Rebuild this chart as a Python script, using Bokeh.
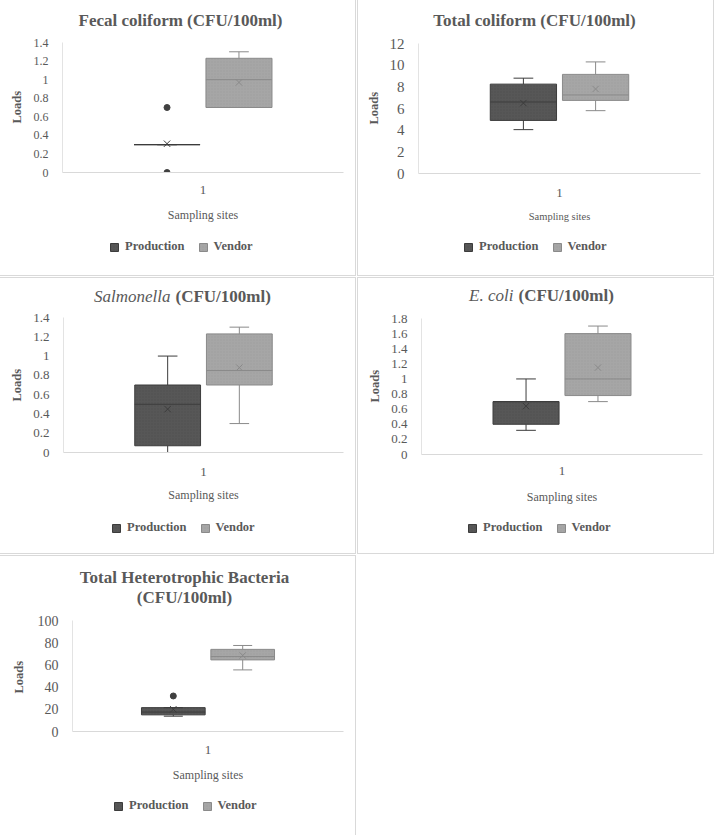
from bokeh.plotting import figure
from bokeh.layouts import row, column
from bokeh.models import (ColumnDataSource, FactorRange, Range1d, FixedTicker,
                          Label, Legend, LegendItem, Title)
from bokeh.transform import dodge
from bokeh.embed import file_html
from bokeh.resources import INLINE

# ---------------- data ----------------
sites = ["1"]
series = ["Production", "Vendor"]

# Fecal coliform (CFU/100ml)
fc_ticks = [0, 0.2, 0.4, 0.6, 0.8, 1.0, 1.2, 1.4]
fc_tick_labels = ["0", "0.2", "0.4", "0.6", "0.8", "1", "1.2", "1.4"]
fc_q1 = [0.30, 0.70]
fc_median = [0.30, 1.00]
fc_q3 = [0.30, 1.23]
fc_low = [0.30, 0.70]
fc_high = [0.30, 1.30]
fc_mean = [0.31, 0.97]
fc_outliers = [[0.70, 0.0], []]

# Total coliform (CFU/100ml)
tc_ticks = [0, 2, 4, 6, 8, 10, 12]
tc_tick_labels = ["0", "2", "4", "6", "8", "10", "12"]
tc_q1 = [4.90, 6.75]
tc_median = [6.60, 7.25]
tc_q3 = [8.25, 9.15]
tc_low = [4.05, 5.80]
tc_high = [8.80, 10.30]
tc_mean = [6.50, 7.80]
tc_outliers = [[], []]

# Salmonella (CFU/100ml)
sa_ticks = [0, 0.2, 0.4, 0.6, 0.8, 1.0, 1.2, 1.4]
sa_tick_labels = ["0", "0.2", "0.4", "0.6", "0.8", "1", "1.2", "1.4"]
sa_q1 = [0.07, 0.70]
sa_median = [0.50, 0.85]
sa_q3 = [0.70, 1.23]
sa_low = [0.00, 0.30]
sa_high = [1.00, 1.30]
sa_mean = [0.45, 0.88]
sa_outliers = [[], []]

# E. coli (CFU/100ml)
ec_ticks = [0, 0.2, 0.4, 0.6, 0.8, 1.0, 1.2, 1.4, 1.6, 1.8]
ec_tick_labels = ["0", "0.2", "0.4", "0.6", "0.8", "1", "1.2", "1.4", "1.6", "1.8"]
ec_q1 = [0.40, 0.78]
ec_median = [0.70, 1.00]
ec_q3 = [0.70, 1.60]
ec_low = [0.32, 0.70]
ec_high = [1.00, 1.70]
ec_mean = [0.64, 1.15]
ec_outliers = [[], []]

# Total Heterotrophic Bacteria (CFU/100ml)
hb_ticks = [0, 20, 40, 60, 80, 100]
hb_tick_labels = ["0", "20", "40", "60", "80", "100"]
hb_q1 = [15.0, 64.5]
hb_median = [17.5, 67.5]
hb_q3 = [21.5, 74.0]
hb_low = [13.8, 55.5]
hb_high = [21.5, 77.5]
hb_mean = [20.0, 68.5]
hb_outliers = [[32.0], []]

# ---------------- styles ----------------
FONT = "Liberation Serif"
TXT = "#595959"
PW = 355
TOP = 2           # frame starts near the top so the title fits inside it
OFFS = [-0.128, 0.128]
BW = 0.235
CW = 0.07
FILL = ["#575757", "#a6a6a6"]
LINE = ["#3c3c3c", "#8a8a8a"]


def box_style(i):
    return dict(fill_color=FILL[i], line_color=LINE[i], line_width=1,
                hatch_pattern="dot", hatch_scale=3, hatch_color=LINE[i], hatch_alpha=0.25)


def make_panel(titles, ticks, tick_labels, q1, med, q3, lo, hi, mean, outl, spec):
    PH, L, fw, T, B, Hm = spec["PH"], spec["L"], spec["fw"], spec["T"], spec["B"], spec["Hm"]
    Hl = PH - Hm
    ytop = ticks[-1] * (B - TOP) / (B - T)      # room above the top tick for the title
    xr = FactorRange(factors=sites, range_padding=0)
    p = figure(x_range=xr, y_range=Range1d(ticks[0], ytop), title=None,
               width=PW, height=Hm,
               min_border_left=L, min_border_right=PW - L - fw,
               min_border_top=TOP, min_border_bottom=Hm - B,
               output_backend="svg", toolbar_location=None, tools="")
    p.outline_line_color = None
    p.grid.visible = False
    p.background_fill_color = "white"
    p.border_fill_color = "white"

    # titles (inside the frame area, screen units from frame bottom-left)
    for t in titles:
        p.add_layout(Label(x=t["x"], y=B - t["y"], x_units="screen", y_units="screen",
                           text=t["text"], text_font=FONT, text_font_style=t["style"],
                           text_font_size="17px", text_color=TXT, text_align=t["align"],
                           text_baseline="middle"))

    # y axis
    ya = p.yaxis[0]
    ya.ticker = FixedTicker(ticks=ticks)
    ya.bounds = (ticks[0], ticks[-1])
    ya.major_label_overrides = {t: s for t, s in zip(ticks, tick_labels)}
    ya.axis_line_color = "#e3e3e3"
    ya.major_tick_line_color = None
    ya.minor_tick_line_color = None
    ya.major_label_standoff = 8
    ya.major_label_text_font = FONT
    ya.major_label_text_font_size = spec["tick_fs"]
    ya.major_label_text_color = TXT
    # y-axis title, placed next to the tick labels and centred on the data part
    p.add_layout(Title(text="Loads", align="left", offset=spec["loads_off"],
                       standoff=spec["loads_so"],
                       text_font=FONT, text_font_style="bold", text_font_size="12.5px",
                       text_color=TXT), "left")

    # x axis
    xa = p.xaxis[0]
    xa.axis_line_color = "#d9d9d9"
    xa.major_tick_line_color = None
    xa.minor_tick_line_color = None
    xa.major_label_standoff = spec["ms"]
    xa.major_label_text_font = FONT
    xa.major_label_text_font_size = "13px"
    xa.major_label_text_color = TXT
    xa.axis_label = "Sampling sites"
    xa.axis_label_text_font = FONT
    xa.axis_label_text_font_style = "normal"
    xa.axis_label_text_font_size = spec["xl_fs"]
    xa.axis_label_text_color = TXT
    xa.axis_label_standoff = spec["as"]

    for i, name in enumerate(series):
        off = OFFS[i]
        src = ColumnDataSource(dict(site=sites, q1=[q1[i]], med=[med[i]], q3=[q3[i]],
                                    lo=[lo[i]], hi=[hi[i]], mean=[mean[i]]))
        p.quad(left=dodge("site", off - BW / 2, range=xr),
               right=dodge("site", off + BW / 2, range=xr),
               bottom="q1", top="q3", source=src, **box_style(i))
        p.segment(x0=dodge("site", off - BW / 2, range=xr), x1=dodge("site", off + BW / 2, range=xr),
                  y0="med", y1="med", source=src, line_color=LINE[i], line_width=1)
        p.segment(x0=dodge("site", off, range=xr), x1=dodge("site", off, range=xr),
                  y0="q3", y1="hi", source=src, line_color=LINE[i], line_width=1)
        p.segment(x0=dodge("site", off, range=xr), x1=dodge("site", off, range=xr),
                  y0="lo", y1="q1", source=src, line_color=LINE[i], line_width=1)
        p.segment(x0=dodge("site", off - CW / 2, range=xr), x1=dodge("site", off + CW / 2, range=xr),
                  y0="hi", y1="hi", source=src, line_color=LINE[i], line_width=1)
        p.segment(x0=dodge("site", off - CW / 2, range=xr), x1=dodge("site", off + CW / 2, range=xr),
                  y0="lo", y1="lo", source=src, line_color=LINE[i], line_width=1)
        p.scatter(x=dodge("site", off, range=xr), y="mean", source=src, marker="x",
                  size=9, line_color=LINE[i], line_width=1)
        if outl[i]:
            osrc = ColumnDataSource(dict(site=sites * len(outl[i]), val=outl[i]))
            p.scatter(x=dodge("site", off, range=xr), y="val", source=osrc, marker="circle",
                      size=6, fill_color="#404040", line_color="#404040")

    # legend strip (its own small figure, legend drawn inside its frame)
    lf = figure(width=PW, height=Hl, x_range=Range1d(0, 1), y_range=Range1d(0, 1),
                x_axis_type=None, y_axis_type=None, title=None,
                min_border=0, min_border_left=0, min_border_right=0,
                min_border_top=0, min_border_bottom=0,
                output_backend="svg", toolbar_location=None, tools="")
    lf.outline_line_color = None
    lf.grid.visible = False
    items = []
    for i, name in enumerate(series):
        # legend proxy glyph, kept outside the strip's visible range
        proxy = ColumnDataSource(dict(l=[-3], r=[-2], b=[-3], t=[-2]))
        r = lf.quad(left="l", right="r", bottom="b", top="t", source=proxy, **box_style(i))
        items.append(LegendItem(label=name, renderers=[r]))
    lt = (spec["lc"] - 7) - Hm                   # legend top inside the strip
    leg = Legend(items=items, orientation="horizontal", location=(spec["lx"], Hl - 14 - lt),
                 margin=0, padding=0, spacing=13, glyph_width=10, glyph_height=10,
                 label_standoff=6, label_height=14,
                 label_text_font=FONT, label_text_font_style="bold",
                 label_text_font_size="12.5px", label_text_color=TXT,
                 border_line_color=None, background_fill_alpha=0)
    lf.add_layout(leg, "center")

    return column(p, lf, spacing=0, styles={"outline": "1px solid #d9d9d9"})


c1 = make_panel([dict(text="Fecal coliform (CFU/100ml)", x=118, y=20, style="bold", align="center")],
                fc_ticks, fc_tick_labels, fc_q1, fc_median, fc_q3, fc_low, fc_high, fc_mean, fc_outliers,
                dict(PH=275, Hm=230, L=60, fw=283, T=42, B=172, tick_fs="12px", ms=7, **{"as": 11},
                     xl_fs="12px", lx=47, lc=247, loads_off=49, loads_so=14))
c2 = make_panel([dict(text="Total coliform (CFU/100ml)", x=116, y=20, style="bold", align="center")],
                tc_ticks, tc_tick_labels, tc_q1, tc_median, tc_q3, tc_low, tc_high, tc_mean, tc_outliers,
                dict(PH=275, Hm=231, L=60, fw=282, T=43, B=173, tick_fs="15px", ms=9, **{"as": 11},
                     xl_fs="10.5px", lx=45, lc=247, loads_off=49, loads_so=12))
c3 = make_panel([dict(text="Salmonella", x=107, y=18, style="italic", align="right"),
                 dict(text="(CFU/100ml)", x=112, y=18, style="bold", align="left")],
                sa_ticks, sa_tick_labels, sa_q1, sa_median, sa_q3, sa_low, sa_high, sa_mean, sa_outliers,
                dict(PH=275, Hm=232, L=60, fw=283, T=39, B=174, tick_fs="13px", ms=9, **{"as": 9},
                     xl_fs="12px", lx=48, lc=250, loads_off=51, loads_so=14))
c4 = make_panel([dict(text="E. coli", x=92, y=17, style="italic", align="right"),
                 dict(text="(CFU/100ml)", x=97, y=17, style="bold", align="left")],
                ec_ticks, ec_tick_labels, ec_q1, ec_median, ec_q3, ec_low, ec_high, ec_mean, ec_outliers,
                dict(PH=275, Hm=234, L=60, fw=284, T=40, B=176, tick_fs="13px", ms=6, **{"as": 12},
                     xl_fs="12px", lx=46, lc=250, loads_off=52, loads_so=14))
c5 = make_panel([dict(text="Total Heterotrophic Bacteria", x=112, y=21, style="bold", align="center"),
                 dict(text="(CFU/100ml)", x=112, y=41, style="bold", align="center")],
                hb_ticks, hb_tick_labels, hb_q1, hb_median, hb_q3, hb_low, hb_high, hb_mean, hb_outliers,
                dict(PH=279, Hm=233, L=67, fw=276, T=64, B=175, tick_fs="14px", ms=8, **{"as": 11},
                     xl_fs="12px", lx=41, lc=250, loads_off=38, loads_so=18))

page = column(row(c1, c2, spacing=3), row(c3, c4, spacing=3), row(c5), spacing=3)

open("out.html", "w").write(file_html(page, INLINE))
